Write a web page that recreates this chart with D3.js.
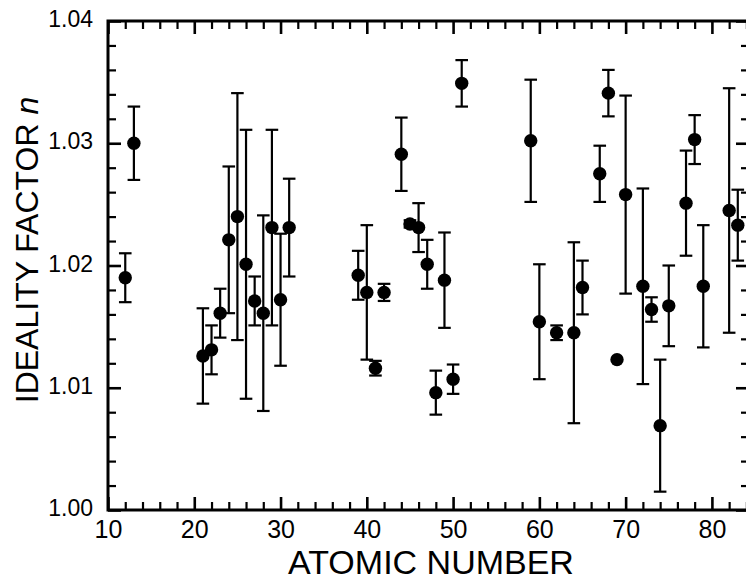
<!DOCTYPE html>
<html>
<head>
<meta charset="utf-8">
<script src="https://cdn.jsdelivr.net/npm/d3@7"></script>
<style>
  body { margin: 0; background: #fff; }
  svg { display: block; }
  text { font-family: "Liberation Sans", Arial, sans-serif; fill: #000; }
</style>
</head>
<body>
<div id="chart"></div>
<script>
// ideality factor n vs atomic number
var atomicNumber = [12, 13, 21, 22, 23, 24, 25, 26, 27, 28, 29, 30, 31,
    39, 40, 41, 42, 44, 45, 46, 47, 48, 49, 50, 51,
    59, 60, 62, 64, 65, 67, 68, 69, 70, 72, 73, 74, 75, 77, 78, 79, 82, 83];
var ideality = [1.0190, 1.0300, 1.0126, 1.0131, 1.0161, 1.0221, 1.0240, 1.0201, 1.0171, 1.0161, 1.0231, 1.0172, 1.0231,
    1.0192, 1.0178, 1.0116, 1.0178, 1.0291, 1.0234, 1.0231, 1.0201, 1.0096, 1.0188, 1.0107, 1.0349,
    1.0302, 1.0154, 1.0145, 1.0145, 1.0182, 1.0275, 1.0341, 1.0123, 1.0258, 1.0183, 1.0164, 1.0069, 1.0167, 1.0251, 1.0303, 1.0183, 1.0245, 1.0233];
var errorBar = [0.0020, 0.0030, 0.0039, 0.0020, 0.0020, 0.0060, 0.0101, 0.0110, 0.0020, 0.0080, 0.0080, 0.0054, 0.0040,
    0.0020, 0.0055, 0.0006, 0.0007, 0.0030, 0.0003, 0.0020, 0.0020, 0.0018, 0.0039, 0.0012, 0.0019,
    0.0050, 0.0047, 0.0006, 0.0074, 0.0022, 0.0023, 0.0019, 0.0000, 0.0081, 0.0080, 0.0010, 0.0054, 0.0033, 0.0043, 0.0020, 0.0050, 0.0100, 0.0029];

var xMajor = [10, 20, 30, 40, 50, 60, 70, 80];
var yMajor = [1.00, 1.01, 1.02, 1.03, 1.04];

var width = 746, height = 581;
var plotLeft = 108, plotRight = 749, plotTop = 21, plotBottom = 510;

var x = d3.scaleLinear().domain([10, 84.3]).range([plotLeft, plotRight]);
var y = d3.scaleLinear().domain([1.00, 1.04]).range([plotBottom, plotTop]);

var xMinor = d3.range(10, 85, 2).filter(function (d) { return d % 10 !== 0; });
var yMinor = d3.range(0, 21).map(function (i) { return 1 + i * 0.002; })
    .filter(function (d, i) { return i % 5 !== 0; });

var svg = d3.select("#chart").append("svg")
    .attr("width", width)
    .attr("height", height);

function styleAxis(g, w) {
    g.select(".domain").remove();
    g.selectAll(".tick line").attr("stroke", "#000").attr("stroke-width", w);
}

// bottom
svg.append("g").attr("transform", "translate(0," + plotBottom + ")")
    .call(d3.axisBottom(x).tickValues(xMinor).tickSize(-8).tickFormat(""))
    .call(styleAxis, 2.2);
svg.append("g").attr("transform", "translate(0," + plotBottom + ")")
    .call(d3.axisBottom(x).tickValues(xMajor).tickSize(-13).tickPadding(10).tickFormat(d3.format("d")))
    .call(styleAxis, 2.6)
    .selectAll("text").style("font-size", "25px");

// top
svg.append("g").attr("transform", "translate(0," + plotTop + ")")
    .call(d3.axisTop(x).tickValues(xMinor).tickSize(-8).tickFormat(""))
    .call(styleAxis, 2.2);
svg.append("g").attr("transform", "translate(0," + plotTop + ")")
    .call(d3.axisTop(x).tickValues(xMajor).tickSize(-13).tickFormat(""))
    .call(styleAxis, 2.6);

// left
svg.append("g").attr("transform", "translate(" + plotLeft + ",0)")
    .call(d3.axisLeft(y).tickValues(yMinor).tickSize(-8).tickFormat(""))
    .call(styleAxis, 2.2);
svg.append("g").attr("transform", "translate(" + plotLeft + ",0)")
    .call(d3.axisLeft(y).tickValues(yMajor).tickSize(-13).tickPadding(15).tickFormat(d3.format(".2f")))
    .call(styleAxis, 2.6)
    .selectAll("text").style("font-size", "23px").attr("dy", "0.24em");

// right
svg.append("g").attr("transform", "translate(" + plotRight + ",0)")
    .call(d3.axisRight(y).tickValues(yMinor).tickSize(-8).tickFormat(""))
    .call(styleAxis, 2.2);
svg.append("g").attr("transform", "translate(" + plotRight + ",0)")
    .call(d3.axisRight(y).tickValues(yMajor).tickSize(-13).tickFormat(""))
    .call(styleAxis, 2.6);

// frame
svg.append("rect")
    .attr("x", plotLeft).attr("y", plotTop)
    .attr("width", plotRight - plotLeft).attr("height", plotBottom - plotTop)
    .attr("fill", "none").attr("stroke", "#000").attr("stroke-width", 3);

var data = atomicNumber.map(function (z, i) {
    return { z: z, n: ideality[i], e: errorBar[i] };
});

var bars = svg.append("g").attr("class", "errorbars")
    .selectAll("g").data(data.filter(function (d) { return d.e > 0; }))
    .join("g")
    .attr("stroke", "#000")
    .attr("stroke-width", 2.2);

bars.append("line")
    .attr("x1", function (d) { return x(d.z); })
    .attr("x2", function (d) { return x(d.z); })
    .attr("y1", function (d) { return y(d.n + d.e); })
    .attr("y2", function (d) { return y(d.n - d.e); });

var cap = 6.3;
bars.append("line")
    .attr("x1", function (d) { return x(d.z) - cap; })
    .attr("x2", function (d) { return x(d.z) + cap; })
    .attr("y1", function (d) { return y(d.n + d.e); })
    .attr("y2", function (d) { return y(d.n + d.e); });
bars.append("line")
    .attr("x1", function (d) { return x(d.z) - cap; })
    .attr("x2", function (d) { return x(d.z) + cap; })
    .attr("y1", function (d) { return y(d.n - d.e); })
    .attr("y2", function (d) { return y(d.n - d.e); });

svg.append("g").attr("class", "points")
    .selectAll("circle").data(data)
    .join("circle")
    .attr("cx", function (d) { return x(d.z); })
    .attr("cy", function (d) { return y(d.n); })
    .attr("r", 6.7)
    .attr("fill", "#000");

// axis titles
svg.append("text")
    .attr("x", 431)
    .attr("y", 574)
    .attr("text-anchor", "middle")
    .style("font-size", "34px")
    .text("ATOMIC NUMBER");

var yt = svg.append("text")
    .attr("transform", "translate(38,250) rotate(-90)")
    .attr("text-anchor", "middle")
    .style("font-size", "32px");
yt.append("tspan").text("IDEALITY FACTOR ");
yt.append("tspan").style("font-style", "italic").text("n");
</script>
</body>
</html>
